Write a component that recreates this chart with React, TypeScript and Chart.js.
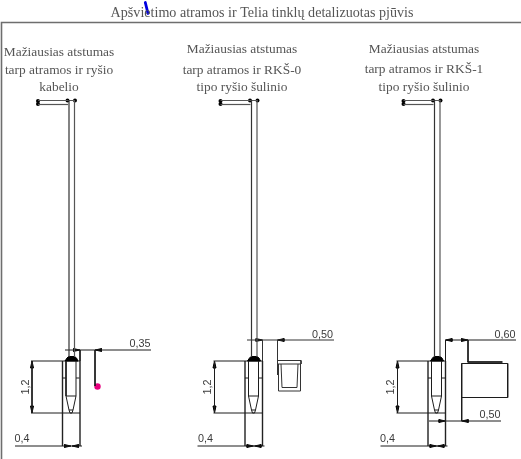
import React, { useEffect, useRef } from "react";
import { Chart, registerables } from "chart.js";

Chart.register(...registerables);

type Pt = [number, number];

const titleText = "Apšvietimo atramos ir Telia tinklų detalizuotas pjūvis";
const captionTexts: [string, number, number][] = [
  ["Mažiausias atstumas", 59, 52.5],
  ["tarp atramos ir ryšio", 59, 70.5],
  ["kabelio", 59, 87.5],
  ["Mažiausias atstumas", 242, 49.5],
  ["tarp atramos ir RKŠ-0", 242, 70],
  ["tipo ryšio šulinio", 242, 87.5],
  ["Mažiausias atstumas", 424, 49.5],
  ["tarp atramos ir RKŠ-1", 424, 69.5],
  ["tipo ryšio šulinio", 424, 87.5],
];
const dimensionTexts: [string, number, number][] = [
  ["0,35", 140, 344.5],
  ["0,4", 22, 439.5],
  ["0,50", 322.5, 335],
  ["0,4", 205.5, 439.5],
  ["0,60", 505, 335],
  ["0,50", 490, 415.5],
  ["0,4", 387.5, 439.5],
];
const rotatedTexts: [string, number, number][] = [
  ["1,2", 26, 387],
  ["1,2", 208, 387],
  ["1,2", 391, 387],
];

const frameLines: Pt[][] = [[[1.5, 459], [1.5, 22.5], [521, 22.5]]];
const poleOffsets = [0, 182.5, 365.5];
const poleShafts: Pt[][] = [
  [[69, 100], [69, 357]],
  [[74.5, 100], [74.5, 357]],
  [[38, 100.5], [75, 100.5]],
  [[38, 104.5], [68, 104.5]],
];
const armDots: Pt[] = [[38, 101], [38, 104], [67.5, 100.5], [75, 100.5]];
const foundationLines: Pt[][] = [
  [[66, 361], [66, 396], [76, 396], [76, 361]],
  [[66, 396], [69, 410], [73, 410], [76, 396]],
  [[69, 410], [70, 413], [72, 413], [73, 410]],
  [[62.5, 378], [66, 378]],
  [[76, 378], [79.5, 378]],
];
const capShape: Pt[] = [[65, 361], [67, 358], [68.5, 356.5], [74.5, 356.5], [76.5, 358], [78, 361], [65, 361]];
const heightDims: Pt[][] = [
  [[31, 361], [80, 361]],
  [[31, 413], [80, 413]],
  [[32, 361], [32, 413]],
];
const widthDims: Pt[][] = [
  [[15, 446], [82, 446]],
];
const sideWalls: Pt[][] = [
  [[62.5, 361], [62.5, 446]],
  [[80, 361], [80, 446]],
];
const heightArrows: Pt[] = [[32, 361], [32, 413]];
const widthArrows: Pt[] = [[71, 446], [72, 446]];

const cableLines: Pt[][] = [
  [[65, 350], [151, 350]],
  [[80, 350], [80, 361]],
  [[95, 350], [95, 386]],
];
const cableArrowsRight: Pt[] = [[80, 350]];
const cableArrowsLeft: Pt[] = [[95, 350]];
const cableDot: Pt[] = [[97.5, 386.5]];

const rks0Lines: Pt[][] = [
  [[247, 340], [334, 340]],
  [[262.5, 340], [262.5, 361]],
  [[277.5, 340], [277.5, 375]],
  [[277.5, 360.5], [301, 360.5], [301, 364], [277.5, 364]],
  [[278.5, 364], [278.5, 391], [300.5, 391], [300.5, 364]],
  [[281, 364], [282, 387.5], [297, 387.5], [298, 364]],
];
const rks0ArrowsRight: Pt[] = [[262.5, 340]];
const rks0ArrowsLeft: Pt[] = [[277.5, 340]];

const rks1Lines: Pt[][] = [
  [[445.5, 340], [516, 340]],
  [[445.5, 340], [445.5, 361]],
  [[468, 340], [468, 362]],
  [[461.7, 363.5], [507.7, 363.5], [507.7, 397.5], [461.7, 397.5]],
  [[461.7, 363.5], [461.7, 421]],
  [[429, 421], [501, 421]],
];
const rks1Lid: Pt[][] = [[[467.5, 362], [502.5, 362]]];
const rks1ArrowsRight: Pt[] = [[445.5, 421], [468, 340]];
const rks1ArrowsLeft: Pt[] = [[461.7, 421], [445.5, 340]];

const blueMark: Pt[] = [[145.3, 2.5], [148, 13.5]];

const shift = (pts: Pt[], dx: number): Pt[] => pts.map(([x, y]) => [x + dx, y] as Pt);
const toXY = (pts: Pt[]) => pts.map(([x, y]) => ({ x, y }));

const INK = "#1c1c1c";
const line = (pts: Pt[], color = INK, width = 1) => ({
  type: "line" as const,
  data: toXY(pts),
  borderColor: color,
  backgroundColor: color,
  borderWidth: width,
  pointRadius: 0,
  showLine: true,
  tension: 0,
  fill: false as any,
});
const dots = (pts: Pt[], color: string, radius: number) => ({
  type: "scatter" as const,
  data: toXY(pts),
  backgroundColor: color,
  borderColor: color,
  pointRadius: radius,
  borderWidth: 0,
  showLine: false,
});
// Arrow heads: a thin closed triangle whose tip sits on the dimension point.
const arrowH = ([x, y]: Pt, dir: number) => ({
  ...line([[x, y], [x - dir * 6.5, y - 1.4], [x - dir * 6.5, y + 1.4], [x, y]], "#000000", 1),
  fill: "shape",
});
const arrowV = ([x, y]: Pt, dir: number) => ({
  ...line([[x, y], [x - 1.5, y - dir * 7], [x + 1.5, y - dir * 7], [x, y]], "#000000", 1),
  fill: "shape",
});

function buildDatasets() {
  const sets: any[] = [];
  frameLines.forEach((l) => sets.push(line(l, "#6e6e6e", 1.6)));
  poleOffsets.forEach((dx) => {
    poleShafts.forEach((l, i) => sets.push(line(shift(l, dx), i === 0 ? "#333333" : "#555555", 1.2)));
    sets.push(dots(shift(armDots, dx), "#000000", 2));
    foundationLines.forEach((l) => sets.push(line(shift(l, dx), INK, 1)));
    sets.push({ ...line(shift(capShape, dx), "#000000", 1), fill: "shape" });
    heightDims.forEach((l) => sets.push(line(shift(l, dx), INK, 1)));
    widthDims.forEach((l) => sets.push(line(shift(l, dx), INK, 1)));
    sideWalls.forEach((l) => sets.push(line(shift(l, dx), "#222222", 1.4)));
    sets.push(arrowV(shift(heightArrows, dx)[0], -1));
    sets.push(arrowV(shift(heightArrows, dx)[1], 1));
    sets.push(arrowH(shift(widthArrows, dx)[0], 1));
    sets.push(arrowH(shift(widthArrows, dx)[1], -1));
  });
  cableLines.forEach((l) => sets.push(line(l)));
  cableArrowsRight.forEach((p) => sets.push(arrowH(p, 1)));
  cableArrowsLeft.forEach((p) => sets.push(arrowH(p, -1)));
  sets.push(dots(cableDot, "#e6007e", 3.2));
  rks0Lines.forEach((l) => sets.push(line(l, "#333333", 1)));
  rks0ArrowsRight.forEach((p) => sets.push(arrowH(p, 1)));
  rks0ArrowsLeft.forEach((p) => sets.push(arrowH(p, -1)));
  rks1Lines.forEach((l) => sets.push(line(l)));
  rks1Lid.forEach((l) => sets.push(line(l, "#333333", 2)));
  rks1ArrowsRight.forEach((p) => sets.push(arrowH(p, 1)));
  rks1ArrowsLeft.forEach((p) => sets.push(arrowH(p, -1)));
  sets.push({ ...line(blueMark, "#0000e0", 2.8), borderCapStyle: "round" });
  return sets;
}

const textPlugin = {
  id: "drawingText",
  afterDatasetsDraw(chart: any) {
    const { ctx, scales } = chart;
    const put = (s: string, x: number, y: number, font: string, color: string, rot = 0) => {
      ctx.save();
      ctx.translate(scales.x.getPixelForValue(x), scales.y.getPixelForValue(y));
      ctx.rotate(rot);
      ctx.font = font;
      ctx.fillStyle = color;
      ctx.textAlign = "center";
      ctx.textBaseline = "middle";
      ctx.fillText(s, 0, 0);
      ctx.restore();
    };
    const serifTitle = "14.1px 'Liberation Serif'";
    const serif = "13.4px 'Liberation Serif'";
    const sans = "10.8px 'Liberation Sans'";
    put(titleText, 262, 13.5, serifTitle, "#555555");
    captionTexts.forEach(([s, x, y]) => put(s, x, y, serif, "#555555"));
    dimensionTexts.forEach(([s, x, y]) => put(s, x, y, sans, "#3a3a3a"));
    rotatedTexts.forEach(([s, x, y]) => put(s, x, y, sans, "#3a3a3a", -Math.PI / 2));
  },
};

export default function App() {
  const ref = useRef<HTMLCanvasElement>(null);
  useEffect(() => {
    const chart = new Chart(ref.current as HTMLCanvasElement, {
      type: "scatter",
      data: { datasets: buildDatasets() },
      options: {
        animation: false,
        responsive: false,
        devicePixelRatio: 1,
        layout: { padding: 0, autoPadding: false },
        clip: false,
        plugins: { legend: { display: false }, tooltip: { enabled: false } },
        scales: {
          x: { type: "linear", min: 0, max: 521, display: false },
          y: { type: "linear", min: 0, max: 459, reverse: true, display: false },
        },
      } as any,
      plugins: [textPlugin],
    } as any);
    return () => chart.destroy();
  }, []);
  return (
    <canvas
      ref={ref}
      width={521}
      height={459}
      style={{ position: "fixed", left: 0, top: 0, background: "#ffffff" }}
    />
  );
}
